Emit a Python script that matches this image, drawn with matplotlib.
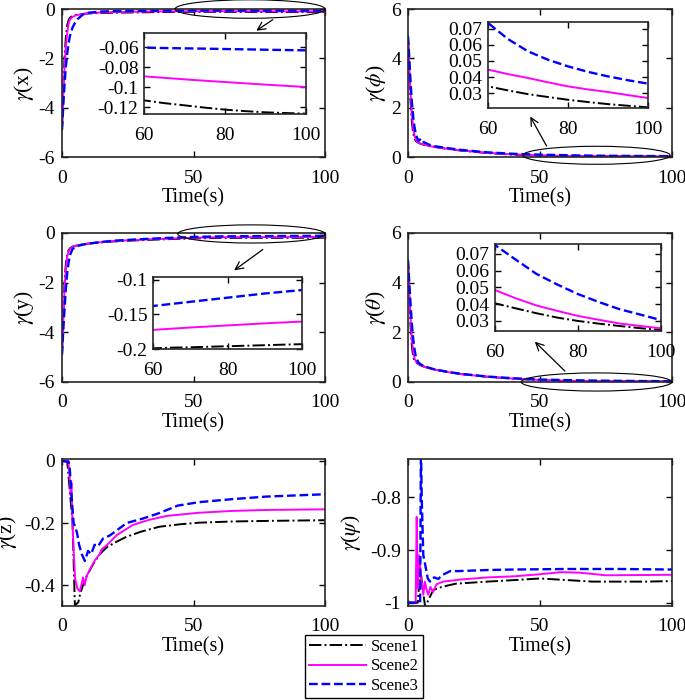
import matplotlib
matplotlib.use("Agg")
import matplotlib.pyplot as plt
from matplotlib.patches import Ellipse

plt.rcParams['font.family'] = ['Liberation Serif', 'DejaVu Serif']
plt.rcParams['mathtext.fontset'] = 'stix'
plt.rcParams['axes.unicode_minus'] = False

# ---------------- data ----------------
scene_names = ['Scene1', 'Scene2', 'Scene3']

t_main = [0, 0.5, 1, 1.5, 2, 2.5, 3, 4, 5, 6, 8, 10, 15, 20, 30, 40, 50,
          60, 65, 70, 75, 80, 85, 90, 95, 100]

gx_s1 = [-4.9, -3.2, -1.9, -1.1, -0.65, -0.45, -0.35, -0.28, -0.25, -0.23, -0.2, -0.18, -0.16, -0.15, -0.135, -0.12, -0.113,
         -0.113, -0.1158, -0.118, -0.1203, -0.1223, -0.1238, -0.125, -0.1257, -0.1263]
gx_s2 = [-4.9, -3.5, -2.3, -1.5, -0.95, -0.6, -0.42, -0.32, -0.27, -0.24, -0.2, -0.17, -0.14, -0.125, -0.105, -0.095, -0.09,
         -0.089, -0.0905, -0.092, -0.0934, -0.0947, -0.096, -0.0973, -0.0985, -0.0997]
gx_s3 = [-4.9, -3.9, -3.0, -2.3, -1.8, -1.4, -1.1, -0.75, -0.55, -0.4, -0.22, -0.15, -0.1, -0.085, -0.072, -0.065, -0.061,
         -0.0603, -0.0607, -0.061, -0.0613, -0.0617, -0.062, -0.0624, -0.0627, -0.063]

gphi_s1 = [4.9, 3.4, 2.2, 1.4, 0.95, 0.75, 0.65, 0.57, 0.53, 0.5, 0.45, 0.41, 0.33, 0.26, 0.16, 0.095, 0.055,
           0.0342, 0.0317, 0.0294, 0.0276, 0.0259, 0.0245, 0.0232, 0.0222, 0.0212]
gphi_s2 = [4.9, 3.6, 2.5, 1.7, 1.15, 0.85, 0.7, 0.58, 0.53, 0.5, 0.45, 0.41, 0.33, 0.27, 0.17, 0.105, 0.065,
           0.0446, 0.0418, 0.0394, 0.0367, 0.0342, 0.0323, 0.0307, 0.0288, 0.027]
gphi_s3 = [4.9, 4.0, 3.0, 2.2, 1.6, 1.2, 0.9, 0.65, 0.75, 0.6, 0.5, 0.44, 0.36, 0.29, 0.19, 0.13, 0.095,
           0.0735, 0.0635, 0.0559, 0.0507, 0.0466, 0.0432, 0.0404, 0.038, 0.0359]

gy_s1 = [-4.9, -3.2, -1.9, -1.2, -0.85, -0.7, -0.62, -0.55, -0.52, -0.5, -0.46, -0.43, -0.38, -0.34, -0.29, -0.25, -0.22,
         -0.199, -0.198, -0.1975, -0.1967, -0.196, -0.1952, -0.1945, -0.1937, -0.193]
gy_s2 = [-4.9, -3.5, -2.2, -1.4, -0.95, -0.75, -0.65, -0.56, -0.52, -0.5, -0.46, -0.42, -0.37, -0.32, -0.27, -0.23, -0.195,
         -0.1724, -0.1707, -0.169, -0.1675, -0.166, -0.1645, -0.163, -0.1617, -0.1605]
gy_s3 = [-4.9, -3.9, -3.0, -2.2, -1.6, -1.2, -0.9, -0.65, -0.56, -0.52, -0.47, -0.43, -0.36, -0.31, -0.25, -0.2, -0.16,
         -0.138, -0.135, -0.132, -0.129, -0.126, -0.123, -0.12, -0.1175, -0.115]

gth_s1 = [4.9, 3.4, 2.2, 1.4, 1.0, 0.85, 0.8, 0.72, 0.66, 0.62, 0.56, 0.5, 0.4, 0.32, 0.21, 0.13, 0.075,
          0.0405, 0.0375, 0.0346, 0.032, 0.030, 0.0284, 0.027, 0.0257, 0.0246]
gth_s2 = [4.9, 3.6, 2.5, 1.7, 1.2, 0.95, 0.83, 0.73, 0.67, 0.62, 0.56, 0.5, 0.4, 0.32, 0.21, 0.135, 0.08,
          0.0484, 0.0435, 0.0392, 0.036, 0.033, 0.0307, 0.0285, 0.027, 0.0256]
gth_s3 = [4.9, 4.0, 3.1, 2.3, 1.7, 1.3, 1.0, 0.78, 0.7, 0.64, 0.57, 0.51, 0.41, 0.33, 0.22, 0.15, 0.1,
          0.0752, 0.0665, 0.058, 0.0517, 0.046, 0.0413, 0.037, 0.0338, 0.0305]

tz_s1 = [0, 2, 3, 4, 4.9, 6.2, 7, 8, 9.4, 12, 14.4, 17, 20.8, 24.6, 30, 37, 45, 52, 65, 80, 100]
gz_s1 = [0, -0.002, -0.1, -0.196, -0.465, -0.455, -0.425, -0.4, -0.37, -0.33, -0.3, -0.278, -0.26, -0.244, -0.228, -0.212, -0.204, -0.199, -0.195, -0.193, -0.191]
tz_s2 = [0, 2.4, 2.9, 3.3, 3.6, 4, 4.5, 5, 5.8, 6.8, 7.5, 8.0, 8.6, 9.4, 10.6, 12.5, 14.4, 15, 16.7, 20.8, 27, 33, 40, 52, 65, 77.7, 100]
gz_s2 = [0, 0, -0.05, -0.11, -0.07, -0.2, -0.3, -0.38, -0.41, -0.42, -0.395, -0.375, -0.4, -0.37, -0.35, -0.32, -0.3, -0.285, -0.274, -0.239, -0.206, -0.19, -0.177, -0.167, -0.161, -0.158, -0.156]
tz_s3 = [0, 2.5, 3, 3.7, 4.4, 5.0, 5.8, 6.5, 7.5, 8.7, 9.9, 11.1, 12.4, 13.7, 15.6, 18.2, 24.6, 31, 37, 44, 52, 65, 77.7, 100]
gz_s3 = [0, -0.003, -0.03, -0.12, -0.2, -0.21, -0.235, -0.27, -0.3, -0.322, -0.29, -0.3, -0.27, -0.275, -0.25, -0.24, -0.2, -0.185, -0.168, -0.144, -0.133, -0.123, -0.115, -0.1075]

tp_s1 = [0, 3.7, 4.2, 4.9, 5.6, 6.5, 8, 9.6, 12.8, 18, 30, 40.6, 50, 60, 70, 80, 90, 100]
gpsi_s1 = [-1, -1, -0.965, -0.945, -0.975, -1.008, -0.992, -0.976, -0.97, -0.964, -0.96, -0.957, -0.954, -0.957, -0.96, -0.96, -0.96, -0.959]
tp_s2 = [0, 2.9, 3.3, 3.7, 4.2, 4.6, 5.2, 5.8, 6.4, 7.0, 7.7, 8.5, 9.5, 10.8, 13.3, 20, 30, 40, 50, 58, 65, 75, 100]
gpsi_s2 = [-1, -1, -0.837, -0.973, -0.91, -0.93, -0.96, -0.985, -0.96, -0.975, -0.985, -0.97, -0.98, -0.965, -0.96, -0.956, -0.952, -0.95, -0.946, -0.942, -0.943, -0.948, -0.947]
tp_s3 = [0, 4.6, 4.9, 5.2, 5.8, 6.6, 7.5, 8.3, 9, 10, 11.5, 12.8, 14, 16, 19, 30, 40, 60, 80, 100]
gpsi_s3 = [-1, -1, -0.70, -0.80, -0.91, -0.93, -0.954, -0.96, -0.954, -0.952, -0.955, -0.948, -0.945, -0.94, -0.94, -0.938, -0.937, -0.936, -0.936, -0.937]

main_xticks = [0, 50, 100]
inset_xticks = [60, 80, 100]

# ---------------- styles ----------------
colors = ['black', '#FF00FF', '#0000FF']
styles = ['-.', '-', '--']
widths = [1.4, 1.4, 1.7]
FS = 14
LFS = 14.5

fig = plt.figure(figsize=(6.85, 7.0), dpi=100)

def style_axes(ax, xpad=9, ypad=5):
    ax.tick_params(direction='in', top=True, right=True, length=4, width=1,
                   labelsize=FS)
    ax.tick_params(axis='x', pad=xpad)
    ax.tick_params(axis='y', pad=ypad)
    for s in ax.spines.values():
        s.set_linewidth(1.2)
        s.set_color('#262626')

def plot_three(ax, ts, ys):
    lines = []
    for t, y, c, ls, lw in zip(ts, ys, colors, styles, widths):
        ln, = ax.plot(t, y, color=c, linestyle=ls, linewidth=lw)
        lines.append(ln)
    return lines

def fmt(v):
    return '%g' % v

main_pos = [
    [0.0905, 0.7757, 0.384, 0.2114],
    [0.5956, 0.7757, 0.3854, 0.2114],
    [0.0905, 0.4543, 0.384, 0.2129],
    [0.5956, 0.4543, 0.3854, 0.2129],
    [0.0905, 0.1343, 0.384, 0.2100],
    [0.5956, 0.1343, 0.3854, 0.2100],
]

panels = [
    (r'$\gamma$(x)', [t_main] * 3, [gx_s1, gx_s2, gx_s3], (-6, 0), [-6, -4, -2, 0]),
    (r'$\gamma$($\phi$)', [t_main] * 3, [gphi_s1, gphi_s2, gphi_s3], (0, 6), [0, 2, 4, 6]),
    (r'$\gamma$(y)', [t_main] * 3, [gy_s1, gy_s2, gy_s3], (-6, 0), [-6, -4, -2, 0]),
    (r'$\gamma$($\theta$)', [t_main] * 3, [gth_s1, gth_s2, gth_s3], (0, 6), [0, 2, 4, 6]),
    (r'$\gamma$(z)', [tz_s1, tz_s2, tz_s3], [gz_s1, gz_s2, gz_s3], (-0.467, 0.006), [-0.4, -0.2, 0]),
    (r'$\gamma$($\psi$)', [tp_s1, tp_s2, tp_s3], [gpsi_s1, gpsi_s2, gpsi_s3], (-1.0063, -0.727), [-1, -0.9, -0.8]),
]

axes = []
legend_lines = None
for k, (pos, (lab, ts, ys, ylim, yt)) in enumerate(zip(main_pos, panels)):
    ax = fig.add_axes(pos)
    lines = plot_three(ax, ts, ys)
    if legend_lines is None:
        legend_lines = lines
    ax.set_xlim(0, 100)
    ax.set_ylim(*ylim)
    ax.set_xticks(main_xticks)
    ax.set_xticklabels([fmt(v) for v in main_xticks])
    ax.set_yticks(yt)
    ax.set_yticklabels([fmt(v) for v in yt])
    ax.set_xlabel('Time(s)', fontsize=LFS, labelpad=1)
    ax.set_ylabel(lab, fontsize=LFS + 1, labelpad=2)
    if k == 4:
        ax.yaxis.set_label_coords(-0.165, 0.5)
    if k == 5:
        ax.yaxis.set_label_coords(-0.17, 0.5)
    style_axes(ax)
    axes.append(ax)

# ---------------- insets ----------------
inset_pos = [
    [0.2102, 0.8371, 0.2365, 0.1157],
    [0.7124, 0.8457, 0.2336, 0.1229],
    [0.2234, 0.5014, 0.2175, 0.1029],
    [0.7226, 0.5271, 0.2423, 0.1243],
]
inset_ylims = [(-0.1267, -0.0457), (0.0208, 0.0741), (-0.2, -0.0962), (0.024, 0.0758)]
inset_yticks = [[-0.12, -0.1, -0.08, -0.06], [0.03, 0.04, 0.05, 0.06, 0.07],
                [-0.2, -0.15, -0.1], [0.03, 0.04, 0.05, 0.06, 0.07]]

for i in range(4):
    lab, ts, ys, _, _ = panels[i]
    ia = fig.add_axes(inset_pos[i])
    plot_three(ia, ts, ys)
    ia.set_xlim(60, 100)
    ia.set_ylim(*inset_ylims[i])
    ia.set_xticks(inset_xticks)
    ia.set_xticklabels([fmt(v) for v in inset_xticks])
    ia.set_yticks(inset_yticks[i])
    ia.set_yticklabels([fmt(v) for v in inset_yticks[i]])
    style_axes(ia, xpad=9, ypad=4)

# ---------------- ellipses & arrows ----------------
ell = [
    (71.5, 0.0, 57, 0.75),
    (71.4, 0.07, 55.7, 0.73),
    (72.0, -0.04, 56, 0.73),
    (71.4, 0.0, 57, 0.73),
]
arrows = [
    ((73, -0.94), (81, -0.37)),
    ((45.8, 1.74), (53, 0.35)),
    ((64.6, -1.57), (77.2, -0.6)),
    ((47.3, 1.7), (60.2, 0.36)),
]
for i in range(4):
    ax = axes[i]
    cx, cy, w, h = ell[i]
    e = Ellipse((cx, cy), w, h, fill=False, edgecolor='black', linewidth=0.8,
                clip_on=False, zorder=5)
    ax.add_patch(e)
    head, tail = arrows[i]
    ax.annotate('', xy=head, xytext=tail,
                arrowprops=dict(arrowstyle='->', color='black', lw=0.9,
                                mutation_scale=14),
                annotation_clip=False)

# ---------------- legend ----------------
leg = fig.legend(legend_lines, scene_names, loc='lower left',
                 bbox_to_anchor=(0.445, 0.003), fontsize=12,
                 frameon=True, fancybox=False, framealpha=1,
                 edgecolor='black', handlelength=3.4, handletextpad=0.3,
                 labelspacing=0.2, borderpad=0.25, borderaxespad=0)
leg.get_frame().set_linewidth(1.0)

fig.savefig('out.png', dpi=100)
